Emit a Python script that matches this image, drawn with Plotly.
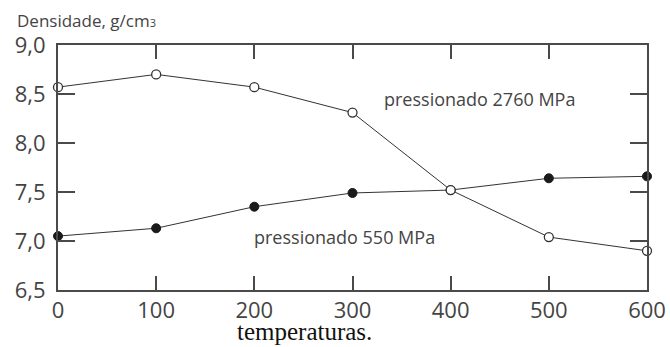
import plotly.graph_objects as go

temperatures = [0, 100, 200, 300, 400, 500, 600]
density_2760 = [8.57, 8.70, 8.57, 8.31, 7.52, 7.04, 6.90]
density_550 = [7.05, 7.13, 7.35, 7.49, 7.52, 7.64, 7.66]
y_ticks = [6.5, 7.0, 7.5, 8.0, 8.5, 9.0]
y_tick_labels = ["6,5", "7,0", "7,5", "8,0", "8,5", "9,0"]
x_ticks = [0, 100, 200, 300, 400, 500, 600]

TXT = "#444444"
AX = "#4a4a4a"

fig = go.Figure()
fig.add_trace(go.Scatter(
    x=temperatures, y=density_550, mode="lines+markers",
    line=dict(color="#333333", width=1),
    marker=dict(symbol="circle", size=9, color="#1a1a1a", line=dict(color="#1a1a1a", width=1)),
    cliponaxis=False, showlegend=False))
fig.add_trace(go.Scatter(
    x=temperatures, y=density_2760, mode="lines+markers",
    line=dict(color="#333333", width=1),
    marker=dict(symbol="circle", size=9, color="white", line=dict(color="#333333", width=1.3)),
    cliponaxis=False, showlegend=False))

fig.update_xaxes(range=[0, 600], tickvals=x_ticks, ticks="inside", ticklen=14, tickwidth=2,
                 tickcolor=AX, showline=True, linecolor=AX, linewidth=2, mirror="ticks",
                 showgrid=False, zeroline=False, ticklabelstandoff=0, automargin=False,
                 tickfont=dict(family="Open Sans", size=22, color=TXT))
fig.update_yaxes(range=[6.5, 9.0], tickvals=y_ticks, ticktext=y_tick_labels, ticks="inside",
                 ticklen=17, tickwidth=2, tickcolor=AX, showline=True, linecolor=AX, linewidth=2,
                 mirror="ticks", showgrid=False, zeroline=False, ticklabelstandoff=6, automargin=False,
                 tickfont=dict(family="Open Sans", size=22, color=TXT))

fig.add_annotation(x=429, y=8.445, xref="x", yref="y", text="pressionado 2760 MPa",
                   showarrow=False, font=dict(family="Open Sans", size=18, color=TXT))
fig.add_annotation(x=292, y=7.04, xref="x", yref="y", text="pressionado 550 MPa",
                   showarrow=False, font=dict(family="Open Sans", size=18, color=TXT))
fig.add_annotation(x=-0.073, y=1.10, xref="paper", yref="paper", xanchor="left", yanchor="middle",
                   text="Densidade, g/cm<span style='font-size:11px'>3</span>",
                   showarrow=False, font=dict(family="Open Sans", size=17, color=TXT))
fig.add_annotation(x=0.418, y=-0.17, xref="paper", yref="paper", xanchor="center", yanchor="middle",
                   text="temperaturas.", showarrow=False,
                   font=dict(family="Liberation Serif", size=25, color="#111111"))

fig.update_layout(width=670, height=347, margin=dict(l=58, r=23, t=45, b=57),
                  paper_bgcolor="white", plot_bgcolor="white")
fig.write_html("out.html", config={"displayModeBar": False},
               post_script="document.body.style.margin='0px';document.body.style.overflow='hidden';")
